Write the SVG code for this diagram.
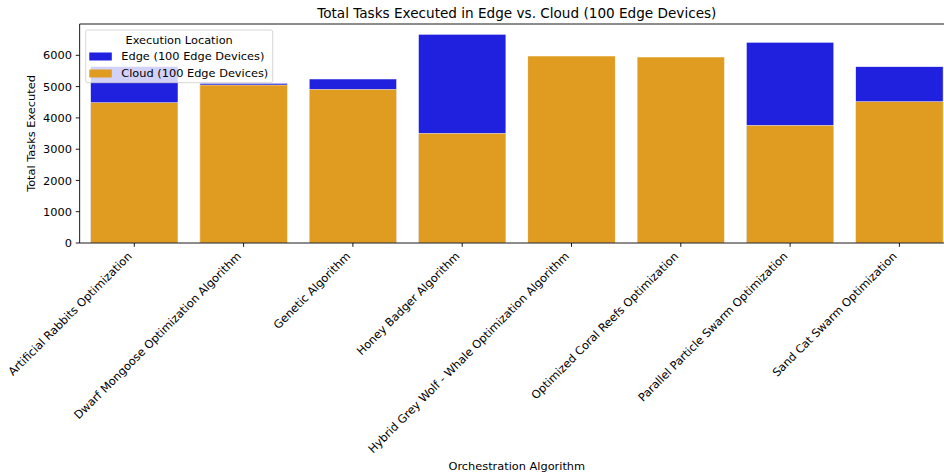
<svg xmlns="http://www.w3.org/2000/svg" width="944" height="475" viewBox="0 0 944 475">
<style>
text{font-family:"DejaVu Sans",sans-serif;fill:#000;font-size:11.35px}
.yt{text-anchor:end}
.xt{text-anchor:end}
.edge{fill:#2020DF;stroke:#fff;stroke-width:0.5}
.cloud{fill:#DF9C20;stroke:#fff;stroke-width:0.5}
.sp{stroke:#000;stroke-width:0.9;fill:none}
.tick{stroke:#000;stroke-width:0.9}
</style>
<rect width="944" height="475" fill="#fff"/>
<g id="bars">
<g id="bar-aro"><rect class="edge" x="90.6" y="66.5" width="87.4" height="176.5"/><rect class="cloud" x="90.6" y="102.7" width="87.4" height="140.3"/></g>
<g id="bar-dmoa"><rect class="edge" x="199.9" y="83.3" width="87.4" height="159.7"/><rect class="cloud" x="199.9" y="85" width="87.4" height="158"/></g>
<g id="bar-ga"><rect class="edge" x="309.2" y="79" width="87.4" height="164"/><rect class="cloud" x="309.2" y="89.3" width="87.4" height="153.7"/></g>
<g id="bar-hba"><rect class="edge" x="418.5" y="34.3" width="87.4" height="208.7"/><rect class="cloud" x="418.5" y="133.3" width="87.4" height="109.7"/></g>
<g id="bar-hgwwoa"><rect class="cloud" x="527.8" y="56" width="87.4" height="187"/></g>
<g id="bar-ocro"><rect class="cloud" x="637.1" y="57" width="87.4" height="186"/></g>
<g id="bar-ppso"><rect class="edge" x="746.4" y="42.3" width="87.4" height="200.7"/><rect class="cloud" x="746.4" y="125.3" width="87.4" height="117.7"/></g>
<g id="bar-scso"><rect class="edge" x="855.7" y="66.7" width="87.4" height="176.3"/><rect class="cloud" x="855.7" y="101.7" width="87.4" height="141.3"/></g>
</g>
<g id="axes">
<path class="sp" d="M79.65,24 V243 H954 M79.65,24 H954"/>
<g class="tick">
<line x1="79.65" y1="243" x2="75.75" y2="243"/>
<line x1="79.65" y1="211.7" x2="75.75" y2="211.7"/>
<line x1="79.65" y1="180.4" x2="75.75" y2="180.4"/>
<line x1="79.65" y1="149.2" x2="75.75" y2="149.2"/>
<line x1="79.65" y1="117.9" x2="75.75" y2="117.9"/>
<line x1="79.65" y1="86.6" x2="75.75" y2="86.6"/>
<line x1="79.65" y1="55.3" x2="75.75" y2="55.3"/>
<line x1="134.3" y1="243" x2="134.3" y2="246.9"/>
<line x1="243.6" y1="243" x2="243.6" y2="246.9"/>
<line x1="352.9" y1="243" x2="352.9" y2="246.9"/>
<line x1="462.2" y1="243" x2="462.2" y2="246.9"/>
<line x1="571.5" y1="243" x2="571.5" y2="246.9"/>
<line x1="680.8" y1="243" x2="680.8" y2="246.9"/>
<line x1="790.1" y1="243" x2="790.1" y2="246.9"/>
<line x1="899.4" y1="243" x2="899.4" y2="246.9"/>
</g>
<text class="yt" x="71.9" y="247.1">0</text>
<text class="yt" x="71.9" y="215.8">1000</text>
<text class="yt" x="71.9" y="184.5">2000</text>
<text class="yt" x="71.9" y="153.3">3000</text>
<text class="yt" x="71.9" y="122">4000</text>
<text class="yt" x="71.9" y="90.7">5000</text>
<text class="yt" x="71.9" y="59.4">6000</text>
<text class="xt" transform="translate(132.5,256.9) rotate(-45)">Artificial Rabbits Optimization</text>
<text class="xt" transform="translate(241.8,256.9) rotate(-45)">Dwarf Mongoose Optimization Algorithm</text>
<text class="xt" transform="translate(351.1,256.9) rotate(-45)">Genetic Algorithm</text>
<text class="xt" transform="translate(460.4,256.9) rotate(-45)">Honey Badger Algorithm</text>
<text class="xt" transform="translate(569.7,256.9) rotate(-45)">Hybrid Grey Wolf - Whale Optimization Algorithm</text>
<text class="xt" transform="translate(679,256.9) rotate(-45)">Optimized Coral Reefs Optimization</text>
<text class="xt" transform="translate(788.3,256.9) rotate(-45)">Parallel Particle Swarm Optimization</text>
<text class="xt" transform="translate(897.6,256.9) rotate(-45)">Sand Cat Swarm Optimization</text>
<text x="516.8" y="469.5" text-anchor="middle">Orchestration Algorithm</text>
<text transform="translate(35,133.5) rotate(-90)" text-anchor="middle">Total Tasks Executed</text>
<text x="516.8" y="18.3" style="font-size:13.6px" text-anchor="middle">Total Tasks Executed in Edge vs. Cloud (100 Edge Devices)</text>
</g>
<g id="legend">
<rect x="85.7" y="30" width="187" height="52.7" rx="2" fill="#fff" fill-opacity="0.8" stroke="#ccc" stroke-width="0.8"/>
<text x="179.2" y="43.5" text-anchor="middle">Execution Location</text>
<rect x="89.3" y="52.5" width="22.5" height="8" fill="#2020DF"/>
<text x="121.3" y="60.4">Edge (100 Edge Devices)</text>
<rect x="89.3" y="69.5" width="22.5" height="8" fill="#DF9C20"/>
<text x="121.3" y="77.4">Cloud (100 Edge Devices)</text>
</g>
</svg>
